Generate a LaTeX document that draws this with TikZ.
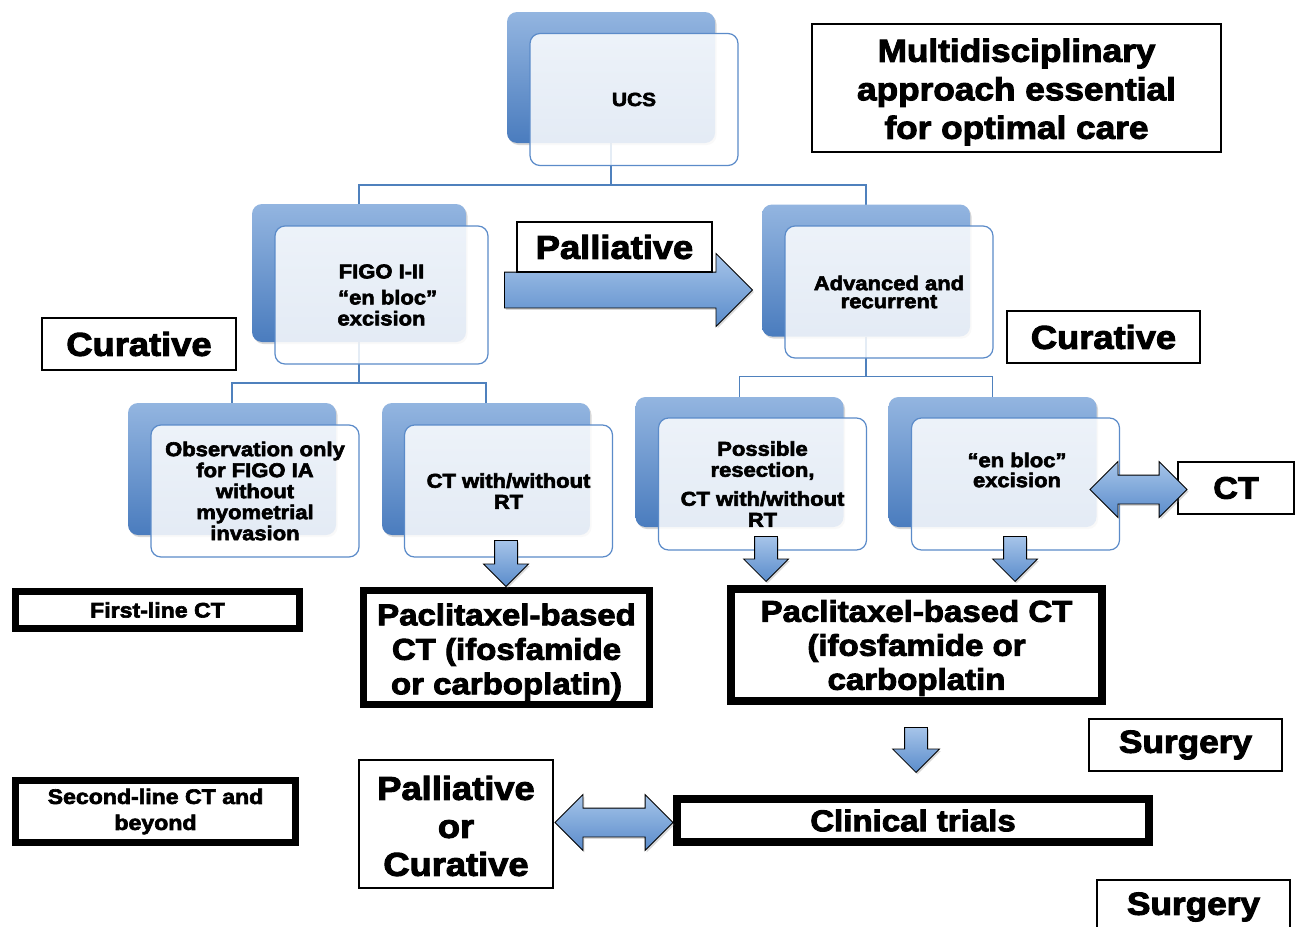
\documentclass[tikz,border=0pt]{standalone}
\usepackage{fontspec}
\setmainfont{Liberation Sans}[FakeStretch=1.1, BoldFeatures={FakeBold=3, FakeStretch=1.1}]
\usetikzlibrary{shapes.arrows,shadows,calc}
\newcommand\fsz[2]{\fontsize{#1}{#2}\selectfont\bfseries}
\definecolor{bktop}{HTML}{93B5E0}
\definecolor{bkbot}{HTML}{4A7CBE}
\definecolor{frline}{HTML}{5B8BC9}
\definecolor{connc}{HTML}{4F81BD}
\definecolor{arrtop}{HTML}{A6C4E9}
\definecolor{arrbot}{HTML}{5A8CCB}
\tikzset{
  bkbox/.style={rectangle, rounded corners=10pt, minimum width=208pt, minimum height=131pt,
    top color=bktop, bottom color=bkbot, draw=none, inner sep=0pt,
    drop shadow={opacity=0.3, shadow xshift=1.5pt, shadow yshift=-2pt}},
  frbox/.style={rectangle, rounded corners=10pt, minimum width=208pt, minimum height=132pt,
    draw=frline, line width=1.2pt, fill=white, fill opacity=0.85, text opacity=1,
    align=center, inner sep=2pt, font=\fsz{20}{21}},
  conn/.style={draw=connc, line width=1.3pt},
  lblbox/.style={rectangle, draw=black, line width=2pt, fill=white, inner sep=0pt, align=center},
  thkbox/.style={rectangle, draw=black, line width=7.5pt, fill=white, inner sep=0pt, align=center},
  sarrow/.style={single arrow, draw=black, line width=0.8pt, top color=arrtop, bottom color=arrbot,
    single arrow tip angle=90,
    drop shadow={opacity=0.3, shadow xshift=1.5pt, shadow yshift=-2pt}},
  darrow/.style={double arrow, draw=black, line width=0.8pt, top color=arrtop, bottom color=arrbot,
    double arrow tip angle=90,
    drop shadow={opacity=0.3, shadow xshift=1.5pt, shadow yshift=-2pt}},
}
\begin{document}
\begin{tikzpicture}[x=1pt,y=-1pt]
\useasboundingbox (0,0) rectangle (1295,926);
\clip (0,0) rectangle (1295,926);
\fill[white] (0,0) rectangle (1295,926);

% back box centres
\coordinate (ucsbc) at (611,77.5);
\coordinate (figobc) at (359,273);
\coordinate (advbc) at (866,270.5);
\coordinate (obsbc) at (232,469);
\coordinate (ctrtbc) at (486,469);
\coordinate (possbc) at (739.5,462);
\coordinate (enbbc) at (992.5,462);

% connectors (drawn first, behind boxes)
\path (ucsbc) ++(0,65.5) coordinate (ucsbs);
\path (figobc) ++(0,-69) coordinate (figobn) (figobc) ++(0,69) coordinate (figobs);
\path (advbc) ++(0,-66) coordinate (advbn) (advbc) ++(0,66) coordinate (advbs);
\path (obsbc) ++(0,-66) coordinate (obsbn);
\path (ctrtbc) ++(0,-66) coordinate (ctrtbn);
\path (possbc) ++(0,-65) coordinate (possbn);
\path (enbbc) ++(0,-65) coordinate (enbbn);
\draw[conn] (ucsbs) -- ++(0,42) -| (figobn);
\draw[conn] (ucsbs) -- ++(0,42) -| (advbn);
\draw[conn] (figobs) -- ++(0,41) -| (obsbn);
\draw[conn] (figobs) -- ++(0,41) -| (ctrtbn);
\draw[conn] (advbs) -- ++(0,40) -| (possbn);
\draw[conn] (advbs) -- ++(0,40) -| (enbbn);

\node[bkbox] (ucsb) at (ucsbc) {};
\node[frbox, font=\fsz{19}{21}] (ucs) at (634,99.5) {UCS};

\node[bkbox, minimum width=214pt, minimum height=138pt] (figob) at (figobc) {};
\node[frbox, minimum width=213pt, minimum height=138pt] (figo) at (381.5,295) {FIGO I-II\\[5pt]\ \ “en bloc”\\excision};

\node[bkbox, minimum height=132pt] (advb) at (advbc) {};
\node[frbox] (adv) at (889,292) {Advanced and\\[-3pt]recurrent};

\node[bkbox, minimum height=132pt] (obsb) at (obsbc) {};
\node[frbox] (obs) at (255,491) {Observation only\\for FIGO IA\\without\\myometrial\\invasion};

\node[bkbox, minimum height=132pt] (ctrtb) at (ctrtbc) {};
\node[frbox] (ctrt) at (508.5,491) {CT with/without\\RT};

\node[bkbox, minimum height=130pt] (possb) at (possbc) {};
\node[frbox] (poss) at (762.5,484) {Possible\\resection,\\[8pt]CT with/without\\RT};

\node[bkbox, minimum height=130pt] (enbb) at (enbbc) {};
\node[frbox] (enb) at (1015.5,484) {};
\node[font=\fsz{20}{20}, align=center, inner sep=0pt] (enbt) at (1017,470) {“en bloc”\\excision};

% label boxes
\node[lblbox, minimum width=409pt, minimum height=128pt] (multi) at (1016.5,88) {};
\node[font=\fsz{32}{38.5}, align=center, inner sep=0pt] (multit) at (1016.5,92) {Multidisciplinary\\approach essential\\for optimal care};
\node[lblbox, minimum width=194pt, minimum height=52pt, font=\fsz{33}{38}] (curl) at (139,344) {Curative};
\node[lblbox, minimum width=193pt, minimum height=52pt, font=\fsz{33}{38}] (curr) at (1103.5,337) {Curative};
\node[lblbox, minimum width=116pt, minimum height=52pt, font=\fsz{31}{36}] (ctb) at (1236,488) {CT};
\node[lblbox, minimum width=193pt, minimum height=52pt, font=\fsz{32}{38}] (surg1) at (1185.5,745) {Surgery};
\node[lblbox, minimum width=193pt, minimum height=64pt] (surg2) at (1193.5,912) {};
\node[font=\fsz{32}{38}, inner sep=0pt] (surg2t) at (1193.5,907) {Surgery};
\node[lblbox, minimum width=194pt, minimum height=128pt] (pallcur) at (456,824) {};
\node[font=\fsz{33}{38}, align=center, inner sep=0pt] (pallcurt) at (456,826) {Palliative\\or\\Curative};

% thick boxes
\node[thkbox, minimum width=284pt, minimum height=37pt, font=\fsz{21}{25}] (first) at (157.5,610) {First-line CT};
\node[thkbox, minimum width=286pt, minimum height=114pt] (paclL) at (506.5,647.5) {};
\node[font=\fsz{30}{34.5}, align=center, inner sep=0pt] (paclLt) at (506.5,652) {Paclitaxel-based\\CT (ifosfamide\\or carboplatin)};
\node[thkbox, line width=8pt, minimum width=371pt, minimum height=112pt] (paclR) at (916.5,645) {};
\node[font=\fsz{30}{34}, align=center, inner sep=0pt] (paclRt) at (916.5,648) {Paclitaxel-based CT\\(ifosfamide or\\carboplatin};
\node[thkbox, minimum width=280pt, minimum height=62pt, font=\fsz{21}{26}] (second) at (155.5,811.5) {Second-line CT and\\beyond};
\node[thkbox, line width=8pt, minimum width=472pt, minimum height=43pt, font=\fsz{30}{34}] (clin) at (913,820.5) {Clinical trials};

% block arrows (placed by their tips)
\node[sarrow, anchor=tip, inner sep=17.5pt, minimum height=248pt, minimum width=72pt, single arrow head extend=18.5pt] (bigarr) at (753,290) {};
\node[lblbox, minimum width=195pt, minimum height=50pt, font=\fsz{33}{38}] (pall) at (614.5,247) {Palliative};

\node[sarrow, anchor=tip, inner sep=11pt, shape border rotate=270, minimum height=46pt, minimum width=44pt, single arrow head extend=11pt] (d1) at (506,587) {};
\node[sarrow, anchor=tip, inner sep=11pt, shape border rotate=270, minimum height=45pt, minimum width=44pt, single arrow head extend=11pt] (d2) at (766,582) {};
\node[sarrow, anchor=tip, inner sep=11pt, shape border rotate=270, minimum height=45pt, minimum width=44pt, single arrow head extend=11pt] (d3) at (1015,582) {};
\node[sarrow, anchor=tip, inner sep=11pt, shape border rotate=270, minimum height=45pt, minimum width=46pt, single arrow head extend=12pt] (d4) at (916,773) {};

\node[darrow, inner sep=14pt, minimum height=97pt, minimum width=55pt, double arrow head extend=13.5pt] (dbl1) at (1138.5,489.5) {};
\node[darrow, inner sep=14pt, minimum height=118pt, minimum width=55pt, double arrow head extend=13.5pt] (dbl2) at (614,822.5) {};
\end{tikzpicture}
\end{document}
